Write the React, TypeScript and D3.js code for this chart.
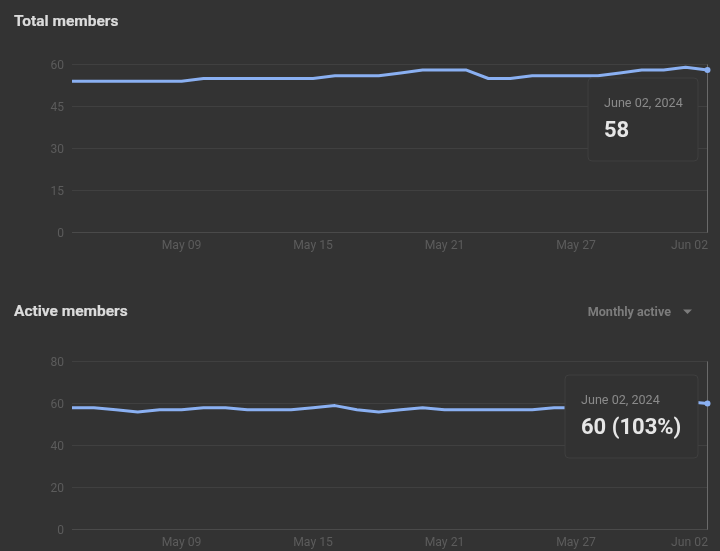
import * as d3 from "d3"

const days = d3.timeDay.range(new Date(2024, 4, 4), new Date(2024, 5, 3))
const tickDays = [new Date(2024, 4, 9), new Date(2024, 4, 15), new Date(2024, 4, 21), new Date(2024, 4, 27), new Date(2024, 5, 2)]

const totalMembers = [54, 54, 54, 54, 54, 54, 55, 55, 55, 55, 55, 55, 56, 56, 56, 57, 58, 58, 58, 55, 55, 56, 56, 56, 56, 57, 58, 58, 59, 58]
const activeMembers = [58, 58, 57, 56, 57, 57, 58, 58, 57, 57, 57, 58, 59, 57, 56, 57, 58, 57, 57, 57, 57, 57, 58, 58, 58, 58, 59, 60, 61, 60]

const totalTicks = [0, 15, 30, 45, 60]
const activeTicks = [0, 20, 40, 60, 80]

const x = d3.scaleTime().domain([days[0], days[days.length - 1]]).range([72, 707.5])
const fmt = d3.timeFormat("%b %d")

type PanelProps = {
  title: string
  titleY: number
  values: number[]
  ticks: number[]
  top: number
  bottom: number
  box: { x: number; y: number; w: number; h: number }
  tip: string
}

function Panel({ title, titleY, values, ticks, top, bottom, box, tip }: PanelProps) {
  const y = d3.scaleLinear().domain([0, ticks[ticks.length - 1]]).range([bottom, top])
  const line = d3
    .line<number>()
    .x((_, i) => x(days[i]))
    .y((d) => y(d))
  const last = values.length - 1

  return (
    <g fontFamily="Roboto, sans-serif">
      <text x={14} y={titleY} fontSize={15.5} fontWeight={700} fill="#dcdcdc" stroke="#dcdcdc" strokeWidth={0.2}>
        {title}
      </text>

      {ticks.map((t) => (
        <g key={t}>
          <line x1={72} x2={708} y1={y(t)} y2={y(t)} stroke={t === 0 ? "#4a4a4a" : "#404040"} />
          <text x={64} y={y(t) + 4} fontSize={12} textAnchor="end" fill="#5c5c5c">
            {t}
          </text>
        </g>
      ))}

      {tickDays.map((d, i) => (
        <text
          key={i}
          x={i === tickDays.length - 1 ? 708 : x(d)}
          y={bottom + 16.2}
          fontSize={12.2}
          textAnchor={i === tickDays.length - 1 ? "end" : "middle"}
          fill="#5c5c5c"
        >
          {fmt(d)}
        </text>
      ))}

      <line x1={707.5} x2={707.5} y1={top} y2={bottom} stroke="#6a6a6a" strokeWidth={1} />
      <path d={line(values) ?? ""} fill="none" stroke="#8ab0f2" strokeWidth={3} strokeLinejoin="round" />
      <circle cx={x(days[last])} cy={y(values[last])} r={3} fill="#8ab0f2" />

      <rect x={box.x} y={box.y} width={box.w} height={box.h} rx={4} fill="#323232" stroke="#3f3f3f" />
      <text x={box.x + 16} y={box.y + 29} fontSize={12.6} fill="#8a8a8a">
        June 02, 2024
      </text>
      <text x={box.x + 16} y={box.y + 59} fontSize={22} fontWeight={700} fill="#e6e6e6">
        {tip}
      </text>
    </g>
  )
}

export default function App() {
  return (
    <svg width={720} height={551} style={{ position: "absolute", left: 0, top: 0, background: "#333333", filter: "blur(0.35px)" }}>
      <Panel
        title="Total members"
        titleY={26}
        values={totalMembers}
        ticks={totalTicks}
        top={64.5}
        bottom={232.5}
        box={{ x: 588, y: 78, w: 110, h: 83 }}
        tip="58"
      />
      <Panel
        title="Active members"
        titleY={316}
        values={activeMembers}
        ticks={activeTicks}
        top={361.5}
        bottom={529.5}
        box={{ x: 565, y: 375, w: 133, h: 83 }}
        tip="60 (103%)"
      />
      <text x={671} y={315.5} fontFamily="Roboto, sans-serif" fontSize={12.6} fontWeight={700} textAnchor="end" fill="#7c7c7c">
        Monthly active
      </text>
      <path d={d3.line()([[683, 309.5], [692, 309.5], [687.5, 314]]) + "Z"} fill="#7c7c7c" />
    </svg>
  )
}
